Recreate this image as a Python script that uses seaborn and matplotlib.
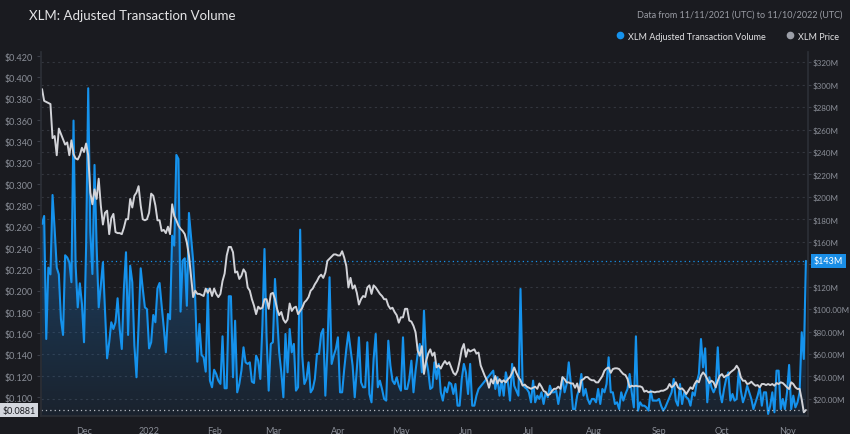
import numpy as np
import pandas as pd
import matplotlib
matplotlib.use('Agg')
import matplotlib.pyplot as plt
import matplotlib.dates as mdates
from matplotlib.lines import Line2D
import seaborn as sns

# daily values, 11/11/2021 .. 11/10/2022
start_date = '2021-11-11'

# XLM adjusted transaction volume, $M (None = no point on the chart)
volume_m = [
    175.9, 183.0, 73.4, 137.0, 131.0, 201.7, 171.4, 137.0, 131.0, 91.0,
    77.0, 148.0, 146.0, 141.7, 124.0, 268.0, 138.7, 101.6, 123.0, 104.6,
    70.5, 156.6, 296.8, 168.5, 131.3, 228.5, 156.6, 101.6, 121.0, 141.7,
    100.0, 56.2, 70.5, 88.3, 82.3, 88.3, 109.7, 82.3, 64.5, 118.0,
    150.7, 77.0, 138.7, 124.0, 67.5, 39.3, 85.3, 136.4, 118.0, 101.6,
    100.0, 65.0, 70.5, 94.8, 88.3, 118.6, 123.3, 103.0, 83.8, 61.5,
    95.7, 91.0, 165.5, 156.6, 237.4, 233.8, 97.8, 143.2, 145.3, 103.0,
    185.7, 164.0, 143.2, 109.0, 53.2, 86.8, 59.2, 57.1, 44.3, 118.0,
    36.3, 30.4, 46.0, 42.2, 36.3, 33.4, 75.8, 29.5, 29.5, 111.5,
    111.5, 39.3, 89.7, 25.9, 33.3, 45.2, 66.0, 52.6, 51.2, 52.6,
    35.4, 34.2, 58.6, 54.1, 37.8, 85.3, 153.6, 74.9, 27.4, 69.0,
    70.5, 126.9, 94.2, 61.5, 43.7, 21.5, 77.9, 43.7, 82.3, 61.5,
    69.0, 27.4, 30.4, 170.8, 58.6, 33.3, 37.8, 52.6, 25.9, 28.9,
    37.8, 60.1, 60.1, 77.9, 82.3, 22.9, 64.5, 128.4, 51.2, 58.6,
    64.5, 74.9, 25.9, 25.9, 46.7, 64.5, 79.4, 64.5, 49.7, 21.5,
    46.7, 74.9, 34.8, 30.4, 30.4, 70.5, 24.4, 17.0, 55.6, 77.9,
    30.4, 36.3, 28.9, 20.0, 18.5, 71.9, 49.7, 36.3, 33.3, 39.3,
    31.8, 27.4, 74.9, 28.9, 28.9, 37.8, 54.1, 25.9, 45.2, 60.1,
    69.0, 43.7, 98.7, 55.6, 45.2, 28.9, 30.4, 52.6, 37.8, 51.2,
    25.9, 18.5, 30.4, 25.9, 34.8, 33.3, 24.4, 33.3, 14.0, 14.0,
    37.8, 51.2, 43.7, 24.4, 51.2, 14.0, 14.0, 22.9, 28.9, None,
    None, None, None, None, None, 45.2, 28.9, 39.3, 22.9, 36.3,
    22.9, 43.7, 34.8, 18.5, 51.2, 31.8, 27.4, 22.9, 118.0, 33.3,
    30.4, 28.9, 25.9, 17.0, 36.3, 17.0, 22.9, 20.0, 25.9, 15.5,
    25.9, 21.5, 31.8, 25.9, 25.9, 27.4, 15.5, 25.9, 39.3, 25.9,
    33.3, 52.6, 33.3, 11.0, 11.0, 22.9, 28.9, 42.2, 22.9, 28.9,
    20.0, 15.5, 20.0, 20.0, 17.0, 28.9, 15.5, 28.9, 25.9, 33.3,
    57.1, 25.9, 25.9, 15.5, 17.0, 11.0, 25.9, 18.5, 24.4, 28.9,
    42.2, 25.9, 12.5, 75.8, 9.6, 17.0, 14.0, 14.0, 12.5, 9.6,
    27.4, 18.5, 18.5, 18.5, 20.0, 14.0, 9.6, 12.5, 17.0, 21.5,
    25.9, 37.8, 18.5, 14.0, 33.3, 15.5, 25.9, 21.5, 20.0, 14.0,
    25.9, 22.9, 34.8, 42.2, 73.4, 48.2, 65.1, 17.0, 39.3, 30.4,
    25.9, 30.4, 66.0, 25.9, 17.0, 28.9, 37.8, 43.7, 18.5, 24.4,
    18.5, 20.0, 45.2, 27.4, 17.0, 22.9, 31.8, 25.9, 20.0, 11.0,
    17.0, 22.9, 30.4, 14.0, 25.9, 25.9, 6.6, 14.0, 25.9, 8.1,
    45.2, 45.2, 11.0, 20.0, 11.0, 25.9, 50.3, 11.0, 22.9, 12.5,
    17.0, 25.9, 79.4, 55.6, 143.0,
]

# XLM price, USD
price_usd = [
    0.389, 0.378, 0.377, 0.376, 0.375, 0.343, 0.345, 0.327, 0.352, 0.347,
    0.342, 0.337, 0.339, 0.327, 0.341, 0.328, 0.324, 0.323, 0.327, 0.334,
    0.330, 0.338, 0.327, 0.292, 0.281, 0.295, 0.286, 0.305, 0.280, 0.262,
    0.273, 0.275, 0.253, 0.268, 0.272, 0.255, 0.254, 0.254, 0.253, 0.259,
    0.267, 0.267, 0.286, 0.278, 0.289, 0.292, 0.298, 0.280, 0.267, 0.266,
    0.267, 0.273, 0.291, 0.289, 0.280, 0.266, 0.266, 0.256, 0.257, 0.254,
    0.260, 0.253, 0.281, 0.270, 0.266, 0.261, 0.258, 0.256, 0.253, 0.245,
    0.233, 0.214, 0.194, 0.200, 0.197, 0.197, 0.196, 0.195, 0.202, 0.198,
    0.202, 0.195, 0.202, 0.197, 0.194, 0.197, 0.209, 0.216, 0.233, 0.241,
    0.241, 0.236, 0.217, 0.218, 0.211, 0.214, 0.220, 0.217, 0.203, 0.200,
    0.192, 0.186, 0.178, 0.185, 0.183, 0.184, 0.192, 0.192, 0.183, 0.197,
    0.198, 0.192, 0.183, 0.177, 0.180, 0.173, 0.170, 0.173, 0.188, 0.181,
    0.184, 0.185, 0.178, 0.181, 0.184, 0.189, 0.191, 0.194, 0.200, 0.202,
    0.206, 0.209, 0.213, 0.215, 0.212, 0.217, 0.228, 0.230, 0.232, 0.234,
    0.234, 0.233, 0.233, 0.237, 0.231, 0.223, 0.203, 0.212, 0.202, 0.205,
    0.198, 0.187, 0.192, 0.195, 0.194, 0.203, 0.205, 0.197, 0.205, 0.203,
    0.200, 0.197, 0.195, 0.192, 0.192, 0.186, 0.183, 0.184, 0.180, 0.177,
    0.170, 0.175, 0.175, 0.183, 0.183, 0.172, 0.171, 0.167, 0.161, 0.144,
    0.139, 0.148, 0.122, 0.134, 0.141, 0.145, 0.139, 0.142, 0.128, 0.130,
    0.127, 0.131, 0.134, 0.131, 0.133, 0.128, 0.123, 0.121, 0.125, 0.134,
    0.145, 0.150, 0.138, 0.145, 0.143, 0.144, 0.145, 0.141, 0.142, 0.130,
    0.125, 0.120, 0.116, 0.109, 0.117, 0.113, 0.120, 0.113, 0.117, 0.114,
    0.116, 0.114, 0.117, 0.119, 0.123, 0.128, 0.123, 0.119, 0.116, 0.111,
    0.112, 0.110, 0.109, 0.108, 0.109, 0.110, 0.108, 0.113, 0.110, 0.106,
    0.105, 0.102, 0.103, 0.106, 0.108, 0.108, 0.110, 0.108, 0.119, 0.117,
    0.114, 0.114, 0.113, 0.113, 0.109, 0.113, 0.105, 0.116, 0.117, 0.119,
    0.119, 0.117, 0.116, 0.116, 0.114, 0.114, 0.117, 0.120, 0.125, 0.127,
    0.128, 0.123, 0.1265, 0.1272, 0.1272, 0.1265, 0.1240, 0.1218, 0.1209, 0.1172,
    0.1094, 0.1109, 0.1103, 0.1109, 0.1103, 0.1103, 0.1094, 0.1053, 0.1062, 0.1047,
    0.1053, 0.1053, 0.1047, 0.1053, 0.1053, 0.1062, 0.1062, 0.1071, 0.1084, 0.1125,
    0.1094, 0.1109, 0.1141, 0.1094, 0.1078, 0.1084, 0.1062, 0.1031, 0.1062, 0.1094,
    0.1078, 0.1125, 0.1156, 0.1141, 0.1203, 0.1234, 0.1209, 0.1172, 0.1134, 0.1156,
    0.1141, 0.1094, 0.1156, 0.1203, 0.1218, 0.1188, 0.1203, 0.1209, 0.1234, 0.1250,
    0.1265, 0.1296, 0.1265, 0.1188, 0.1156, 0.1156, 0.1125, 0.1130, 0.1147, 0.1125,
    0.1109, 0.1115, 0.1094, 0.1125, 0.1125, 0.1115, 0.1125, 0.1115, 0.1125, 0.1109,
    0.1134, 0.1125, 0.1141, 0.1134, 0.1115, 0.1094, 0.1078, 0.1141, 0.1125, 0.1094,
    0.1078, 0.108, 0.098, 0.086, 0.0881,
]

# right axis: $140M label sits under the $143M last-value box, so it stays blank
vol_ticks = list(range(20, 340, 20))
vol_tick_labels = ['' if v == 140 else ('$%.2fM' % v if v <= 100 else '$%dM' % v) for v in vol_ticks]
price_ticks = [round(0.10 + 0.02 * i, 3) for i in range(17)]
price_tick_labels = ['$%.3f' % p for p in price_ticks]
month_ticks = pd.date_range('2021-12-01', '2022-11-01', freq='MS')
month_labels = ['Dec', '2022', 'Feb', 'Mar', 'Apr', 'May', 'Jun', 'Jul', 'Aug', 'Sep', 'Oct', 'Nov']

BG = '#1a1b20'
BLUE = '#1592ec'
WHITE_LINE = '#d2d3d8'
TICK_C = '#8b8f98'

sns.set_theme(style='dark', rc={'axes.facecolor': BG, 'figure.facecolor': BG})
plt.rcParams['font.family'] = ['Lato', 'DejaVu Sans']

vol = pd.DataFrame({'date': pd.date_range(start_date, periods=len(volume_m), freq='D'),
                    'volume': pd.Series(volume_m, dtype='float')})
px = pd.DataFrame({'date': pd.date_range(start_date, periods=len(price_usd), freq='D'),
                   'price': price_usd})

fig = plt.figure(figsize=(8.5, 4.35), dpi=100)
ax = fig.add_axes([41 / 850, 18 / 435, 767 / 850, 364 / 435])
ax_p = ax.twinx()   # price on top of the volume

# volume (right axis)
sns.lineplot(data=vol, x='date', y='volume', ax=ax, color=BLUE, linewidth=1.5, zorder=3)

# gradient fill under volume
v = vol.dropna()
poly = ax.fill_between(v['date'], v['volume'], 0, facecolor='none', edgecolor='none')
grad = np.zeros((256, 1, 4))
grad[:, 0, :3] = matplotlib.colors.to_rgb('#1f7fd6')
grad[:, 0, 3] = np.linspace(0.62, 0.07, 256)
xnum = mdates.date2num(v['date'])
img = ax.imshow(grad, extent=[xnum.min(), xnum.max(), 0, 330], aspect='auto',
                origin='upper', zorder=1)
img.set_clip_path(poly.get_paths()[0], transform=ax.transData)

# price (left axis)
sns.lineplot(data=px, x='date', y='price', ax=ax_p, color=WHITE_LINE, linewidth=1.4)

x0 = pd.Timestamp(start_date) - pd.Timedelta(hours=12)
x1 = pd.Timestamp(start_date) + pd.Timedelta(days=365)
ax.set_xlim(x0, x1)
ax.set_ylim(4.8, 329.1)
ax_p.set_ylim(0.0825, 0.4238)

ax.yaxis.tick_right()
ax.yaxis.set_label_position('right')
ax_p.yaxis.tick_left()
ax_p.yaxis.set_label_position('left')

ax.set_yticks(vol_ticks)
ax.set_yticklabels(vol_tick_labels)
ax_p.set_yticks(price_ticks)
ax_p.set_yticklabels(price_tick_labels)
ax.set_xticks(month_ticks)
ax.set_xticklabels(month_labels)

for a in (ax, ax_p):
    a.set_xlabel('')
    a.set_ylabel('')
    a.tick_params(labelsize=6.5, labelcolor=TICK_C, color='#3a3d46', length=3, width=0.8, pad=3)
ax.tick_params(axis='y', labelsize=5.8, pad=1.5, length=2)
ax.tick_params(axis='x', pad=4)

ax.grid(axis='y', color='#33363e', linestyle=(0, (2, 3)), linewidth=0.8)
ax.grid(axis='x', visible=False)
ax_p.grid(False)

for s in ('top', 'left', 'right'):
    ax.spines[s].set_visible(False)
ax.spines['bottom'].set_color('#2c2f36')
for s in ('top', 'bottom'):
    ax_p.spines[s].set_visible(False)
ax_p.spines['left'].set_color('#2c2f36')
ax_p.spines['right'].set_color('#2c2f36')

# last-value markers
last_vol = volume_m[-1]
last_px = price_usd[-1]
ax.axhline(last_vol, color=BLUE, linestyle=(0, (1, 2.5)), linewidth=0.9, zorder=2)
ax_p.axhline(last_px, color='#b9bcc4', linestyle=(0, (1, 2.5)), linewidth=0.9)
ax.annotate('$%dM' % round(last_vol), xy=(1, last_vol), xycoords=('axes fraction', 'data'),
            xytext=(4, 0), textcoords='offset points', ha='left', va='center',
            fontsize=6.5, color='white',
            bbox=dict(boxstyle='square,pad=0.3', fc='#1a8ee6', ec='none'), annotation_clip=False)
ax_p.annotate('$%.4f' % last_px, xy=(0, last_px), xycoords=('axes fraction', 'data'),
              xytext=(-4, 0), textcoords='offset points', ha='right', va='center',
              fontsize=6.5, color='#1a1b20',
              bbox=dict(boxstyle='square,pad=0.3', fc='#d4d7de', ec='none'), annotation_clip=False)

# titles
fig.text(29 / 850, 1 - 16 / 435, 'XLM: Adjusted Transaction Volume', fontsize=9.5,
         color='#e4e4e6', va='center', ha='left')
fig.text(842 / 850, 1 - 15 / 435, 'Data from 11/11/2021 (UTC) to 11/10/2022 (UTC)',
         fontsize=6.5, color='#9a9da5', va='center', ha='right')

handles = [Line2D([], [], marker='o', linestyle='', color=BLUE, markersize=4.5,
                  label='XLM Adjusted Transaction Volume'),
           Line2D([], [], marker='o', linestyle='', color='#9c9fa8', markersize=4.5,
                  label='XLM Price')]
fig.legend(handles=handles, loc='center right', bbox_to_anchor=(847 / 850, 1 - 37 / 435),
           ncol=2, frameon=False, fontsize=6.5, labelcolor='#e2e2e4',
           handletextpad=0.4, columnspacing=2.2, handlelength=1.0)

fig.savefig('out.png', dpi=100, facecolor=BG)
